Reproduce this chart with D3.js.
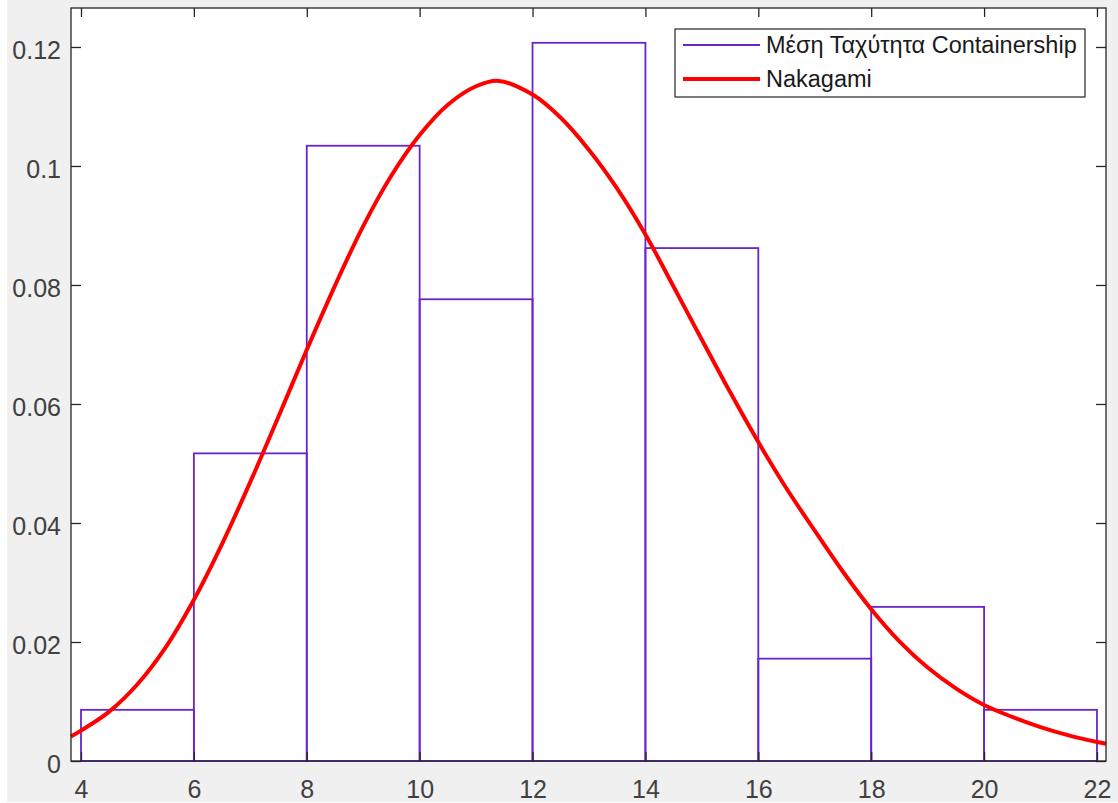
<!DOCTYPE html>
<html>
<head>
<meta charset="utf-8">
<script src="https://cdn.jsdelivr.net/npm/d3@7"></script>
<style>
  body { margin: 0; background: #ffffff; }
  svg { display: block; font-family: "Liberation Sans", Arial, sans-serif; }
</style>
</head>
<body>
<svg id="chart" width="1118" height="803"></svg>
<script>
// histogram bins (edges) and normalised heights
var binEdges = [4, 6, 8, 10, 12, 14, 16, 18, 20, 22];
var binValues = [0.0086, 0.0517, 0.1034, 0.0776, 0.1207, 0.0862, 0.0172, 0.0259, 0.0086];

// fitted Nakagami curve
var curveX = [3.82, 4, 4.5, 5, 5.5, 6, 6.5, 7, 7.5, 8, 8.5, 9, 9.5, 10, 10.5, 11, 11.4, 12, 12.5, 13, 13.5, 14, 14.5, 15, 15.5, 16, 16.5, 17, 17.5, 18, 18.5, 19, 19.5, 20, 20.5, 21, 21.5, 22, 22.16];
var curveY = [0.0041, 0.0051, 0.0083, 0.0129, 0.0191, 0.0271, 0.0365, 0.0469, 0.0579, 0.0691, 0.0799, 0.0899, 0.0984, 0.1052, 0.1103, 0.1134, 0.1143, 0.1120, 0.1081, 0.1027, 0.0962, 0.0885, 0.0797, 0.0708, 0.0620, 0.0536, 0.0458, 0.0387, 0.0318, 0.0255, 0.0201, 0.0157, 0.0122, 0.0094, 0.0074, 0.0057, 0.0043, 0.0032, 0.0029];

var xTicks = [4, 6, 8, 10, 12, 14, 16, 18, 20, 22];
var yTicks = [0, 0.02, 0.04, 0.06, 0.08, 0.1, 0.12];
var seriesNames = ["Μέση Ταχύτητα Containership", "Nakagami"];

var svg = d3.select("#chart"),
  margin = { top: 8, right: 12, bottom: 42, left: 71 },
  width = +svg.attr("width") - margin.left - margin.right,
  height = +svg.attr("height") - margin.top - margin.bottom;

var histColor = "#6a24cc",
  fitColor = "#ff0000",
  axisColor = "#262626",
  textColor = "#404040";

svg.append("rect")
  .attr("x", 7).attr("y", 0)
  .attr("width", 1111).attr("height", 802)
  .attr("fill", "#f0f0f0");

var x = d3.scaleLinear().domain([3.823, 22.16]).range([0, width]),
  y = d3.scaleLinear().domain([0, 0.12655]).range([height, 0]);

var g = svg.append("g")
  .attr("transform", "translate(" + margin.left + "," + margin.top + ")");

g.append("rect")
  .attr("width", width).attr("height", height)
  .attr("fill", "#ffffff");

// histogram bars
var bins = binValues.map(function (v, i) {
  return { x0: binEdges[i], x1: binEdges[i + 1], value: v };
});

g.selectAll(".bar")
  .data(bins)
  .enter()
  .append("rect")
  .attr("class", "bar")
  .attr("x", function (d) { return x(d.x0); })
  .attr("y", function (d) { return y(d.value); })
  .attr("width", function (d) { return x(d.x1) - x(d.x0); })
  .attr("height", function (d) { return height - y(d.value); })
  .attr("fill", "none")
  .attr("stroke", histColor)
  .attr("stroke-width", 1.8);

// fit curve
var pts = curveX.map(function (v, i) { return [v, curveY[i]]; });
var line = d3.line()
  .x(function (d) { return x(d[0]); })
  .y(function (d) { return y(d[1]); })
  .curve(d3.curveCatmullRom.alpha(0.5));

g.append("path")
  .datum(pts)
  .attr("d", line)
  .attr("fill", "none")
  .attr("stroke", fitColor)
  .attr("stroke-width", 4);

// axes (box with inward ticks on all sides)
function styleAxis(sel) {
  sel.select(".domain").remove();
  sel.selectAll("line").attr("stroke", axisColor).attr("stroke-width", 1.3);
  sel.selectAll("text")
    .attr("fill", textColor)
    .style("font-size", "25px");
}

g.append("g")
  .attr("transform", "translate(0," + height + ")")
  .call(d3.axisBottom(x).tickValues(xTicks).tickSizeInner(-9).tickSizeOuter(0).tickPadding(19).tickFormat(d3.format("d")))
  .call(styleAxis);

g.append("g")
  .call(d3.axisTop(x).tickValues(xTicks).tickSizeInner(-9).tickSizeOuter(0).tickFormat(""))
  .call(styleAxis);

g.append("g")
  .call(d3.axisLeft(y).tickValues(yTicks).tickSizeInner(-10).tickSizeOuter(0).tickPadding(10)
    .tickFormat(function (d) { return d === 0 ? "0" : d3.format("")(+d.toFixed(2)); }))
  .call(styleAxis)
  .selectAll("text").attr("dy", "0.45em");

g.append("g")
  .attr("transform", "translate(" + width + ",0)")
  .call(d3.axisRight(y).tickValues(yTicks).tickSizeInner(-10).tickSizeOuter(0).tickFormat(""))
  .call(styleAxis);

g.append("rect")
  .attr("width", width).attr("height", height)
  .attr("fill", "none")
  .attr("stroke", axisColor)
  .attr("stroke-width", 1.3);

// legend
var legend = svg.append("g").attr("transform", "translate(675,29)");
legend.append("rect")
  .attr("width", 410).attr("height", 68)
  .attr("fill", "#ffffff")
  .attr("stroke", axisColor)
  .attr("stroke-width", 1.2);

var legendItems = [
  { name: seriesNames[0], color: histColor, w: 1.8 },
  { name: seriesNames[1], color: fitColor, w: 4 }
];

var li = legend.selectAll(".item")
  .data(legendItems)
  .enter()
  .append("g")
  .attr("transform", function (d, i) { return "translate(0," + (16 + i * 34) + ")"; });

li.append("line")
  .attr("x1", 8).attr("x2", 85)
  .attr("stroke", function (d) { return d.color; })
  .attr("stroke-width", function (d) { return d.w; });

li.append("text")
  .attr("x", 91)
  .attr("dy", "0.36em")
  .attr("fill", "#1a1a1a")
  .style("font-size", "23.5px")
  .text(function (d) { return d.name; });
</script>
</body>
</html>
